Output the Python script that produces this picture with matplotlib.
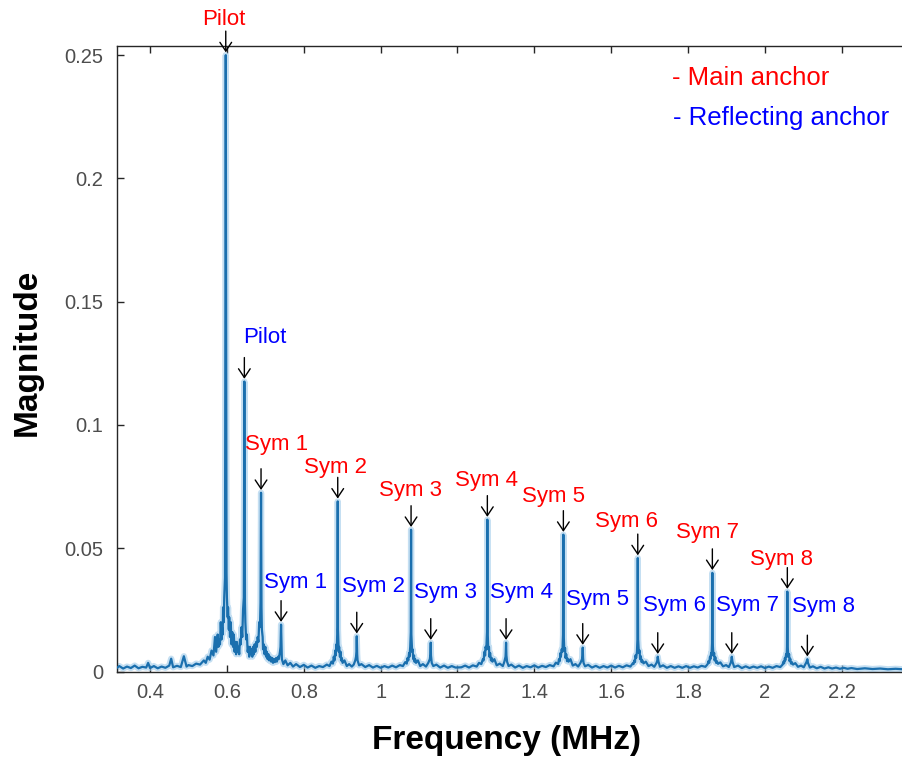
import matplotlib
matplotlib.use("Agg")
import matplotlib.pyplot as plt
import numpy as np

plt.rcParams["font.family"] = ["Liberation Sans", "DejaVu Sans"]

# ---- labelled spectral peaks (MHz, magnitude) ----
main_labels = ["Pilot", "Sym 1", "Sym 2", "Sym 3", "Sym 4", "Sym 5", "Sym 6", "Sym 7", "Sym 8"]
main_freq = [0.597, 0.6888, 0.8884, 1.0792, 1.2777, 1.4755, 1.6691, 1.8632, 2.0583]
main_mag = [0.250, 0.0725, 0.0690, 0.0575, 0.0616, 0.0555, 0.0460, 0.0400, 0.0324]

refl_labels = ["Pilot", "Sym 1", "Sym 2", "Sym 3", "Sym 4", "Sym 5", "Sym 6", "Sym 7", "Sym 8"]
refl_freq = [0.6454, 0.7409, 0.9379, 1.1304, 1.3264, 1.5259, 1.7211, 1.9137, 2.1104]
refl_mag = [0.1176, 0.0190, 0.0143, 0.0117, 0.0117, 0.0097, 0.0060, 0.0060, 0.0050]

# ---- background of the spectrum (noise floor and peak skirts) ----
bg_freq = [
    0.314, 0.32, 0.33, 0.34, 0.35, 0.36, 0.37, 0.38, 0.39, 0.395, 0.40, 0.41, 0.42, 0.43,
    0.44, 0.45, 0.455, 0.46, 0.47, 0.48, 0.488, 0.495, 0.50, 0.51, 0.52, 0.53, 0.54, 0.545,
    0.55, 0.555, 0.56, 0.565, 0.569, 0.572, 0.576, 0.578, 0.580, 0.582, 0.584, 0.586, 0.587,
    0.589, 0.590, 0.592, 0.593, 0.595,
    0.599, 0.600, 0.602, 0.603, 0.605, 0.606, 0.608, 0.610, 0.612, 0.614, 0.616, 0.618,
    0.620, 0.622, 0.624, 0.626, 0.628, 0.630, 0.632, 0.634, 0.636, 0.638, 0.640, 0.642, 0.644,
    0.647, 0.648, 0.650, 0.652, 0.654, 0.656, 0.658, 0.660, 0.662, 0.664, 0.666, 0.668,
    0.670, 0.672, 0.674, 0.676, 0.678, 0.680, 0.682, 0.684, 0.686, 0.6875,
    0.690, 0.691, 0.693, 0.694, 0.696, 0.698, 0.700, 0.702, 0.704, 0.706, 0.708, 0.710,
    0.713, 0.715, 0.718, 0.720, 0.723, 0.725, 0.728, 0.730, 0.733, 0.735, 0.738, 0.7395,
    0.7425, 0.743, 0.747, 0.752, 0.758, 0.765, 0.772, 0.78, 0.79, 0.80, 0.81, 0.82, 0.83,
    0.84, 0.85, 0.86, 0.867, 0.872, 0.876, 0.878, 0.880, 0.882, 0.883, 0.885, 0.886, 0.8875,
    0.889, 0.891, 0.892, 0.894, 0.896, 0.897, 0.899, 0.901, 0.906, 0.912, 0.918, 0.925,
    0.930, 0.934, 0.936, 0.937,
    0.939, 0.940, 0.944, 0.950, 0.96, 0.97, 0.98, 0.99, 1.00, 1.01, 1.02, 1.03, 1.04, 1.05,
    1.058, 1.064, 1.068, 1.070, 1.072, 1.074, 1.075, 1.077, 1.0785,
    1.080, 1.082, 1.083, 1.085, 1.087, 1.088, 1.090, 1.092, 1.097, 1.103, 1.11, 1.118,
    1.124, 1.128, 1.1295,
    1.131, 1.133, 1.137, 1.145, 1.155, 1.165, 1.175, 1.185, 1.195, 1.21, 1.22, 1.23, 1.24,
    1.25, 1.256, 1.262, 1.266, 1.268, 1.270, 1.272, 1.273, 1.275, 1.2768,
    1.2786, 1.280, 1.282, 1.283, 1.285, 1.287, 1.289, 1.291, 1.296, 1.302, 1.31, 1.318,
    1.322, 1.325, 1.3255,
    1.3273, 1.329, 1.333, 1.34, 1.35, 1.36, 1.37, 1.38, 1.39, 1.40, 1.41, 1.42, 1.43, 1.44,
    1.45, 1.456, 1.462, 1.464, 1.466, 1.468, 1.469, 1.471, 1.473, 1.4746,
    1.4764, 1.478, 1.480, 1.481, 1.483, 1.485, 1.487, 1.489, 1.494, 1.50, 1.507, 1.514,
    1.52, 1.524, 1.525,
    1.5268, 1.528, 1.532, 1.54, 1.55, 1.56, 1.57, 1.58, 1.59, 1.60, 1.61, 1.62, 1.63, 1.64,
    1.65, 1.656, 1.658, 1.660, 1.662, 1.663, 1.665, 1.667, 1.6682,
    1.670, 1.672, 1.674, 1.675, 1.677, 1.679, 1.681, 1.684, 1.69, 1.697, 1.705, 1.712,
    1.718, 1.720,
    1.723, 1.727, 1.735, 1.745, 1.755, 1.765, 1.775, 1.785, 1.795, 1.805, 1.815, 1.825,
    1.835, 1.845, 1.851, 1.853, 1.855, 1.857, 1.858, 1.860, 1.861, 1.8623,
    1.8641, 1.866, 1.868, 1.869, 1.871, 1.873, 1.875, 1.878, 1.884, 1.891, 1.899, 1.906,
    1.911, 1.9125,
    1.9155, 1.92, 1.93, 1.94, 1.95, 1.96, 1.97, 1.98, 1.99, 2.00, 2.01, 2.02, 2.03,
    2.04, 2.046, 2.048, 2.050, 2.052, 2.053, 2.055, 2.0565, 2.0574,
    2.0592, 2.061, 2.063, 2.064, 2.066, 2.068, 2.070, 2.073, 2.079, 2.086, 2.094, 2.101,
    2.106, 2.108,
    2.112, 2.117, 2.125, 2.135, 2.145, 2.155, 2.165, 2.175, 2.185, 2.195, 2.205, 2.215,
    2.225, 2.24, 2.26, 2.28, 2.30, 2.32, 2.34, 2.36, 2.38, 2.40,
]
bg_mag = [
    0.0015, 0.0022, 0.0012, 0.0020, 0.0014, 0.0024, 0.0013, 0.0019, 0.0016, 0.0035, 0.0014, 0.0022, 0.0013, 0.0020,
    0.0015, 0.0024, 0.0052, 0.0017, 0.0023, 0.0018, 0.0062, 0.0020, 0.0026, 0.0022, 0.0032, 0.0028, 0.0045, 0.0035,
    0.0060, 0.0048, 0.0085, 0.0065, 0.0140, 0.0080, 0.0150, 0.0100, 0.0130, 0.0110, 0.0200, 0.0130, 0.0180,
    0.0150, 0.0260, 0.0200, 0.0300, 0.0380,
    0.0400, 0.0300, 0.0220, 0.0260, 0.0170, 0.0220, 0.0140, 0.0200, 0.0110, 0.0160, 0.0100, 0.0150,
    0.0080, 0.0120, 0.0070, 0.0120, 0.0080, 0.0100, 0.0070, 0.0130, 0.0110, 0.0180, 0.0140, 0.0250, 0.0300,
    0.0280, 0.0200, 0.0130, 0.0150, 0.0080, 0.0100, 0.0060, 0.0100, 0.0070, 0.0090, 0.0060, 0.0100,
    0.0070, 0.0110, 0.0080, 0.0120, 0.0100, 0.0140, 0.0120, 0.0200, 0.0180, 0.0280,
    0.0260, 0.0170, 0.0140, 0.0090, 0.0110, 0.0070, 0.0100, 0.0060, 0.0080, 0.0050, 0.0070, 0.0045,
    0.0060, 0.0040, 0.0055, 0.0035, 0.0050, 0.0038, 0.0055, 0.0040, 0.0060, 0.0050, 0.0080, 0.0100,
    0.0090, 0.0050, 0.0030, 0.0045, 0.0025, 0.0035, 0.0020, 0.0030, 0.0018, 0.0027, 0.0016, 0.0024, 0.0015,
    0.0022, 0.0018, 0.0028, 0.0022, 0.0040, 0.0032, 0.0060, 0.0045, 0.0085, 0.0065, 0.0110, 0.0090, 0.0180,
    0.0170, 0.0080, 0.0100, 0.0060, 0.0080, 0.0045, 0.0055, 0.0035, 0.0045, 0.0022, 0.0030, 0.0020,
    0.0028, 0.0045, 0.0060, 0.0080,
    0.0070, 0.0045, 0.0025, 0.0030, 0.0018, 0.0026, 0.0016, 0.0023, 0.0015, 0.0022, 0.0016, 0.0024, 0.0017, 0.0026,
    0.0022, 0.0038, 0.0032, 0.0055, 0.0045, 0.0075, 0.0060, 0.0100, 0.0160,
    0.0150, 0.0080, 0.0090, 0.0050, 0.0065, 0.0040, 0.0050, 0.0035, 0.0045, 0.0022, 0.0030, 0.0020,
    0.0035, 0.0050, 0.0070,
    0.0065, 0.0035, 0.0022, 0.0028, 0.0016, 0.0024, 0.0015, 0.0022, 0.0016, 0.0017, 0.0024, 0.0016, 0.0025,
    0.0020, 0.0035, 0.0030, 0.0050, 0.0045, 0.0080, 0.0065, 0.0100, 0.0090, 0.0160,
    0.0160, 0.0090, 0.0100, 0.0060, 0.0075, 0.0045, 0.0055, 0.0040, 0.0050, 0.0025, 0.0032, 0.0022,
    0.0040, 0.0060, 0.0075,
    0.0065, 0.0040, 0.0022, 0.0028, 0.0016, 0.0024, 0.0015, 0.0022, 0.0017, 0.0025, 0.0016, 0.0023, 0.0018, 0.0026,
    0.0021, 0.0036, 0.0030, 0.0050, 0.0042, 0.0075, 0.0060, 0.0090, 0.0080, 0.0150,
    0.0150, 0.0085, 0.0095, 0.0055, 0.0070, 0.0042, 0.0052, 0.0040, 0.0050, 0.0024, 0.0030, 0.0020,
    0.0035, 0.0050, 0.0065,
    0.0055, 0.0035, 0.0021, 0.0027, 0.0016, 0.0023, 0.0015, 0.0022, 0.0016, 0.0024, 0.0016, 0.0023, 0.0017, 0.0025,
    0.0020, 0.0033, 0.0030, 0.0045, 0.0038, 0.0065, 0.0055, 0.0080, 0.0130,
    0.0130, 0.0075, 0.0085, 0.0050, 0.0062, 0.0038, 0.0045, 0.0033, 0.0040, 0.0022, 0.0028, 0.0019,
    0.0035, 0.0045,
    0.0040, 0.0019, 0.0025, 0.0015, 0.0022, 0.0015, 0.0021, 0.0015, 0.0022, 0.0015, 0.0021, 0.0016,
    0.0023, 0.0019, 0.0030, 0.0042, 0.0035, 0.0060, 0.0050, 0.0075, 0.0065, 0.0115,
    0.0115, 0.0065, 0.0075, 0.0045, 0.0058, 0.0035, 0.0042, 0.0031, 0.0037, 0.0021, 0.0026, 0.0018,
    0.0035, 0.0045,
    0.0040, 0.0018, 0.0024, 0.0014, 0.0021, 0.0014, 0.0020, 0.0015, 0.0021, 0.0014, 0.0020, 0.0015, 0.0022,
    0.0018, 0.0028, 0.0040, 0.0033, 0.0055, 0.0045, 0.0070, 0.0060, 0.0100,
    0.0100, 0.0060, 0.0070, 0.0042, 0.0052, 0.0032, 0.0038, 0.0028, 0.0034, 0.0019, 0.0024, 0.0017,
    0.0032, 0.0038,
    0.0035, 0.0016, 0.0021, 0.0013, 0.0019, 0.0012, 0.0017, 0.0012, 0.0016, 0.0011, 0.0015, 0.0011,
    0.0014, 0.0010, 0.0013, 0.0010, 0.0012, 0.0009, 0.0011, 0.0009, 0.0010, 0.0009,
]
assert len(bg_freq) == len(bg_mag)

# merge the peak apexes into the background trace
freq = np.array(bg_freq + main_freq + refl_freq)
mag = np.array(bg_mag + main_mag + refl_mag)
order = np.argsort(freq)
freq, mag = freq[order], mag[order]

# ---- label layout: text offset (px) from each peak apex ----
main_dx = [-2, 16, -2, -1, -1, -10, -11, -5, -6]
main_dy = [36, 48, 34, 39, 39, 38, 37, 40, 32]
refl_dx = [20, 15, 17, 15, 15, 15, 17, 16, 16]
refl_dy = [44, 42, 50, 50, 50, 48, 51, 51, 53]

W, H, DPI = 903, 758, 100
fig = plt.figure(figsize=(W / DPI, H / DPI), dpi=DPI)

x0_px, y0_px, ytop_px = 117, 671.5, 46
px_per_mhz = 384.3
xmin, xmax = 0.314, 2.40
ax_w_px = (xmax - xmin) * px_per_mhz
ax = fig.add_axes([x0_px / W, (H - y0_px) / H, ax_w_px / W, (y0_px - ytop_px) / H])

line_col = "#1a6fae"
ax.plot(freq, mag, color="#9fcbea", lw=4.5, alpha=0.6, zorder=2)
ax.plot(freq, mag, color=line_col, lw=1.6, zorder=3)

ax.set_xlim(xmin, xmax)
ax.set_ylim(0, 0.2537)
ax.set_xticks([0.4, 0.6, 0.8, 1.0, 1.2, 1.4, 1.6, 1.8, 2.0, 2.2])
ax.set_xticklabels(["0.4", "0.6", "0.8", "1", "1.2", "1.4", "1.6", "1.8", "2", "2.2"])
ax.set_yticks([0, 0.05, 0.1, 0.15, 0.2, 0.25])
ax.set_yticklabels(["0", "0.05", "0.1", "0.15", "0.2", "0.25"])
ax.tick_params(direction="in", length=5, width=1, color="#262626",
               labelsize=14.5, labelcolor="#4d4d4d", top=True, right=False)
ax.tick_params(axis="y", pad=10)
ax.tick_params(axis="x", pad=8)
for s in ax.spines.values():
    s.set_color("#262626")
    s.set_linewidth(1.0)
ax.spines["right"].set_visible(False)

fig.text(507 / W, 1 - 740 / H, "Frequency (MHz)", ha="center", va="center",
         fontsize=24, fontweight="bold")
fig.text(27 / W, 1 - 352 / H, "Magnitude", ha="center", va="center",
         rotation=90, fontsize=24, fontweight="bold")

PT = 72.0 / DPI


def mark(f, m, text, color, dx, dy):
    ax.annotate("", xy=(f, m), xytext=(0, 24 * PT), textcoords="offset points",
                arrowprops=dict(arrowstyle="->,head_length=0.45,head_width=0.3",
                                color="black", lw=1.0, shrinkA=0, shrinkB=2,
                                mutation_scale=14), zorder=5)
    ax.annotate(text, xy=(f, m), xytext=(dx * PT, dy * PT), textcoords="offset points",
                ha="center", va="center", color=color, fontsize=16, zorder=5,
                annotation_clip=False)


for f, m, t, dx, dy in zip(main_freq, main_mag, main_labels, main_dx, main_dy):
    mark(f, m, t, "#ff0000", dx, dy)
for f, m, t, dx, dy in zip(refl_freq, refl_mag, refl_labels, refl_dx, refl_dy):
    mark(f, m, t, "#0000ff", dx, dy)

fig.text(672 / W, 1 - 78 / H, "- Main anchor", ha="left", va="center",
         color="#ff0000", fontsize=18.5)
fig.text(673 / W, 1 - 118 / H, "- Reflecting anchor", ha="left", va="center",
         color="#0000ff", fontsize=18.5)

fig.savefig("out.png", dpi=DPI)
